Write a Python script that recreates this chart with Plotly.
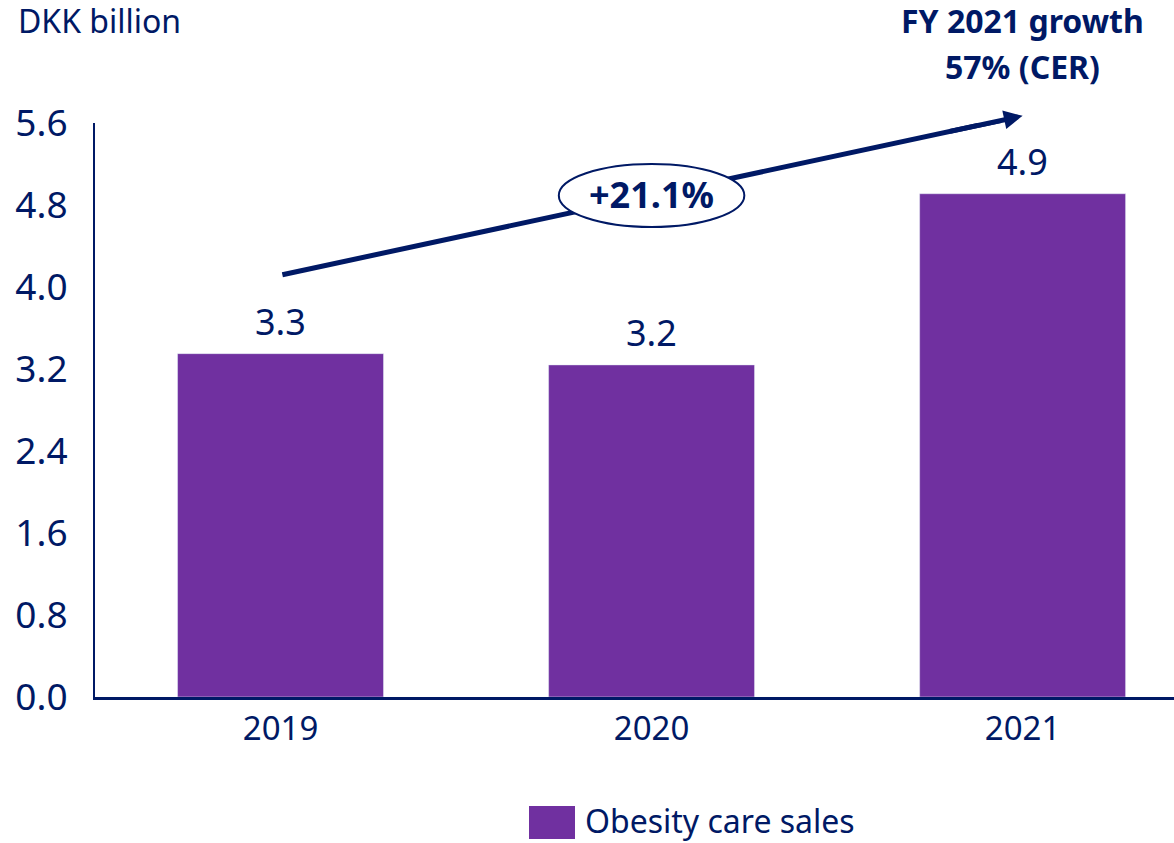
import plotly.graph_objects as go

years = ["2019", "2020", "2021"]
sales = [3.35, 3.24, 4.91]
value_labels = ["3.3", "3.2", "4.9"]
y_ticks = [0.0, 0.8, 1.6, 2.4, 3.2, 4.0, 4.8, 5.6]
series_name = "Obesity care sales"
growth_label = "+21.1%"
headline = ["FY 2021 growth", "57% (CER)"]
unit_label = "DKK billion"

NAVY = "#001965"
PURPLE = "#7030A0"
FONT = "Noto Sans"

fig = go.Figure()
fig.add_trace(go.Bar(
    x=years, y=sales, name=series_name, marker_color=PURPLE,
    width=0.555, showlegend=False, hoverinfo="x+y",
))

# value labels above bars
for i, (v, lab) in enumerate(zip(sales, value_labels)):
    fig.add_annotation(x=i, y=v, xref="x", yref="y", text=lab, showarrow=False,
                       yanchor="bottom", yshift=6,
                       font=dict(family=FONT, size=36, color=NAVY))

# growth arrow: shaft as shape (under the ellipse), head as annotation
x_start, y_start, x_end, y_end = 0.005, 4.12, 2.0, 5.67
slope = (y_end - y_start) / (x_end - x_start)
fig.add_shape(type="line", xref="x", yref="y", x0=x_start, y0=y_start,
              x1=x_end - 0.03, y1=y_end - 0.03 * slope,
              line=dict(color=NAVY, width=5), layer="above")
fig.add_annotation(x=x_end, y=y_end, ax=x_end - 0.2, ay=y_end - 0.2 * slope,
                   xref="x", yref="y", axref="x", ayref="y", text="", showarrow=True,
                   arrowhead=2, arrowsize=0.75, arrowwidth=5, arrowcolor=NAVY)

# ellipse with growth label
fig.add_shape(type="circle", xref="x", yref="y", x0=0.75, x1=1.25, y0=4.585, y1=5.2,
              fillcolor="white", line=dict(color=NAVY, width=2), layer="above")
fig.add_annotation(x=1, y=4.9, xref="x", yref="y", text="<b>%s</b>" % growth_label,
                   showarrow=False, font=dict(family=FONT, size=36, color=NAVY))

# headline text top right
fig.add_annotation(x=2, xref="x", y=(697 - 20) / 574, yref="paper",
                   text="<b>%s</b>" % headline[0], showarrow=False, yanchor="middle",
                   font=dict(family=FONT, size=32, color=NAVY))
fig.add_annotation(x=2, xref="x", y=(697 - 66) / 574, yref="paper",
                   text="<b>%s</b>" % headline[1], showarrow=False, yanchor="middle",
                   font=dict(family=FONT, size=32, color=NAVY))

# unit label
fig.add_annotation(x=0, xref="paper", xanchor="left", xshift=-79,
                   y=(697 - 20) / 574, yref="paper", yanchor="middle",
                   text=unit_label, showarrow=False,
                   font=dict(family=FONT, size=32, color=NAVY))

# manual legend
fig.add_shape(type="rect", xref="paper", yref="paper",
              x0=(529 - 95) / 1079, x1=(575 - 95) / 1079,
              y0=(697 - 839) / 574, y1=(697 - 806) / 574,
              fillcolor=PURPLE, line=dict(width=0))
fig.add_annotation(x=(584 - 95) / 1079, xref="paper", xanchor="left",
                   y=(697 - 820) / 574, yref="paper", yanchor="middle",
                   text=series_name, showarrow=False, borderpad=0,
                   font=dict(family=FONT, size=32, color=NAVY))

fig.update_layout(
    width=1174, height=843,
    margin=dict(l=95, r=0, t=123, b=146),
    plot_bgcolor="white", paper_bgcolor="white",
    font=dict(family=FONT, color=NAVY),
    bargap=0.445,
)
fig.update_xaxes(
    type="category",
    range=[-0.5, 2.408], showline=True, linecolor=NAVY, linewidth=2.5,
    ticks="", tickfont=dict(family=FONT, size=33, color=NAVY), showgrid=False,
    ticklabelstandoff=1,
)
fig.update_yaxes(
    range=[0, 5.6], tickvals=y_ticks, ticktext=["%.1f" % t for t in y_ticks],
    showline=True, linecolor=NAVY, linewidth=2, showgrid=False, zeroline=False,
    ticks="", tickfont=dict(family=FONT, size=37, color=NAVY), ticklabelstandoff=18,
)

fig.write_html("out.html", config={"displayModeBar": False},
               post_script="document.body.style.margin='0';")
